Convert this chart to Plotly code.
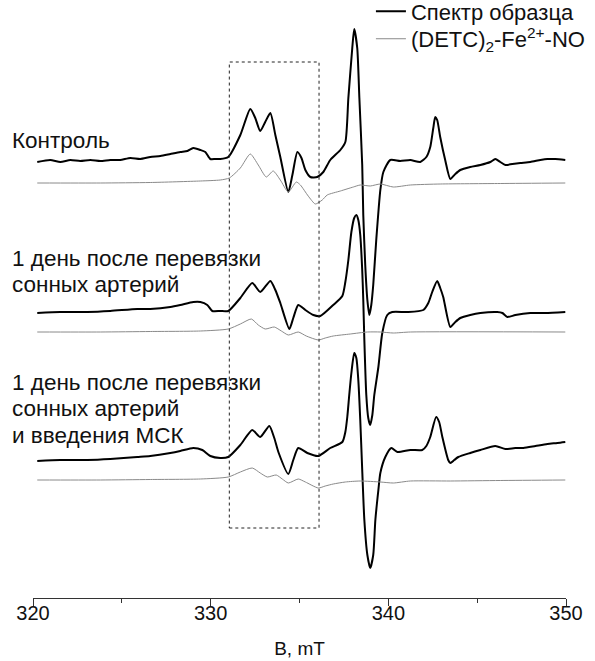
import plotly.graph_objects as go

# EPR spectra: (field B in mT, intensity in a.u. relative to each trace's own baseline)
control_sample = [
    (320.24, -1), (320.97, 1), (321.54, -1), (322.10, 1), (322.66, 0), (323.23, 1),
    (323.79, 0), (324.35, 1), (324.91, 1), (325.48, 3), (326.04, 2), (326.60, 4),
    (327.17, 5), (327.73, 7), (328.29, 9), (328.69, 10), (329.02, 13), (329.42, 11),
    (329.70, 9), (329.98, 2), (330.26, 2), (330.54, 2), (330.99, 4), (331.67, 26),
    (332.23, 52), (332.51, 43), (332.79, 30), (333.07, 39), (333.36, 48), (333.64, 26),
    (333.92, 4), (334.37, -31), (334.60, -14), (334.88, 9), (335.11, 3), (335.33, -9),
    (335.61, -16), (336.00, -16), (336.34, -11), (336.73, 1), (337.30, 11), (337.58, 19),
    (337.75, 63), (337.97, 113), (338.08, 132), (338.25, 113), (338.37, 63), (338.53, -4),
    (338.59, -54), (338.70, -104), (338.82, -139), (338.93, -154), (339.04, -144),
    (339.15, -124), (339.32, -79), (339.55, -29), (339.72, -11), (340.11, 1), (340.67, 0),
    (341.24, 1), (341.80, -1), (342.14, 4), (342.36, 14), (342.53, 33), (342.64, 44),
    (342.75, 41), (342.92, 24), (343.20, 1), (343.49, -18), (343.77, -13), (344.05, -9),
    (344.61, -6), (345.18, -4), (345.74, -1), (346.02, 2), (346.30, -1), (346.59, -4),
    (346.98, -3), (347.43, -2), (347.99, -1), (348.56, 1), (348.95, 2), (349.40, 2),
    (349.96, 1),
]
control_ref = [
    (320.24, 0), (323.79, 0), (326.60, 0.5), (329.42, 2), (330.54, 3), (331.05, 5),
    (331.67, 15), (332.23, 29), (332.68, 18), (333.13, 6), (333.52, 12), (333.92, 3),
    (334.37, -9), (334.82, 1), (335.05, -2), (335.49, -13), (335.89, -21), (336.28, -17),
    (336.56, -12), (337.30, -8), (338.03, -4), (338.42, -2), (338.98, -3), (339.55, -1),
    (340.28, -4), (341.24, -2), (342.92, -1), (346.30, -0.5), (349.96, 0),
]
ligation_sample = [
    (320.24, -1), (321.54, 0), (323.06, 0), (324.35, 1), (325.87, 3), (326.60, 3),
    (327.73, 5), (328.29, 7), (329.02, 10), (329.42, 10), (329.81, 7), (330.09, 1),
    (330.54, 1), (330.99, 1), (331.67, 14), (332.34, 29), (332.79, 20), (333.36, 31),
    (333.64, 22), (333.92, 9), (334.43, -17), (334.65, -6), (334.93, 7), (335.33, 2),
    (335.78, -3), (336.17, -4), (336.90, 7), (337.41, 16), (337.58, 30), (337.75, 52),
    (337.92, 80), (338.08, 94), (338.20, 97), (338.31, 92), (338.42, 77), (338.53, 42),
    (338.59, 12), (338.65, -28), (338.76, -83), (338.87, -106), (338.98, -113),
    (339.10, -103), (339.21, -83), (339.44, -55), (339.66, -21), (339.94, -3),
    (340.22, 0), (341.07, 0), (341.97, 2), (342.25, 9), (342.47, 20), (342.75, 31),
    (342.92, 24), (343.09, 15), (343.49, -15), (343.77, -10), (344.05, -6), (344.61, -3),
    (345.18, -1), (346.13, 0), (346.42, -1), (346.70, -5), (347.15, -3), (347.99, -1),
    (348.84, -1), (349.96, 0),
]
ligation_ref = [
    (320.24, 0), (323.79, 0), (326.60, 0.5), (329.42, 1), (330.99, 3), (331.67, 8),
    (332.29, 13), (332.68, 7), (333.07, 3), (333.58, 5), (333.98, 1), (334.37, -3),
    (334.93, 0), (335.38, -4), (336.06, -8), (336.45, -6), (336.90, -4), (337.86, -2),
    (338.82, 0), (339.55, 0), (340.28, -1), (341.24, 0), (349.96, 0),
]
msc_sample = [
    (320.24, -1), (321.54, 0), (323.06, 0), (324.35, 1), (325.87, 3), (326.60, 4),
    (327.73, 7), (328.29, 9), (329.02, 12), (329.53, 10), (329.98, 4), (330.54, 2),
    (330.99, 3), (331.67, 15), (332.34, 30), (332.79, 23), (333.30, 34), (333.58, 22),
    (333.81, 8), (334.37, -14), (334.65, 0), (334.93, 12), (335.44, 7), (336.06, 4),
    (336.73, 12), (337.41, 18), (337.58, 28), (337.69, 43), (337.80, 65), (337.92, 87),
    (338.08, 107), (338.20, 102), (338.31, 80), (338.42, 40), (338.53, -10),
    (338.65, -60), (338.82, -95), (338.98, -108), (339.15, -95), (339.27, -60),
    (339.44, -30), (339.55, -13), (339.83, 3), (340.17, 12), (340.51, 8), (341.24, 10),
    (341.91, 10), (342.14, 14), (342.36, 23), (342.69, 43), (342.86, 38), (343.04, 23),
    (343.37, 0), (343.49, -3), (343.71, 0), (343.94, 3), (344.61, 7), (345.18, 10),
    (346.02, 14), (346.59, 11), (347.15, 12), (347.60, 12), (348.28, 14), (348.95, 16),
    (349.51, 17), (349.96, 18),
]
msc_ref = [
    (320.24, 0), (323.79, 0), (326.60, 0.5), (329.42, 1), (330.99, 3), (331.67, 8),
    (332.34, 12), (332.79, 7), (333.19, 3), (333.69, 5), (334.03, 1), (334.37, -3),
    (334.93, 1), (335.33, -2), (336.06, -8), (336.45, -6), (336.90, -4), (337.58, -2),
    (338.42, -1), (339.55, -2), (340.28, -3), (341.24, -1), (343.49, -1),
    (346.30, -0.5), (349.96, 0),
]

# caption lines for each group and the vertical position of each line
group_labels = [
    ["Контроль"],
    ["1 день после перевязки", "сонных артерий"],
    ["1 день после перевязки", "сонных артерий", "и введения МСК"],
]
label_top = [458, 340, 216]
LINE_STEP = 26.5

# vertical offsets that stack the traces (sample, reference) per group
sample_offsets = [437, 286, 138]
ref_offsets = [415, 266, 118]

samples = [control_sample, ligation_sample, msc_sample]
refs = [control_ref, ligation_ref, msc_ref]

FONT = "Liberation Sans, Arial, sans-serif"
TEXT_SIZE = 22.5

fig = go.Figure()
for i, (smp, ref) in enumerate(zip(samples, refs)):
    bx, by = zip(*smp)
    rx, ry = zip(*ref)
    fig.add_trace(go.Scatter(
        x=list(bx), y=[v + sample_offsets[i] for v in by], mode="lines",
        line=dict(color="black", width=2, shape="spline", smoothing=0.6),
        name="Спектр образца", showlegend=(i == 0), legend="legend",
    ))
    fig.add_trace(go.Scatter(
        x=list(rx), y=[v + ref_offsets[i] for v in ry], mode="lines",
        line=dict(color="#8a8a8a", width=1, shape="spline", smoothing=0.6),
        name="(DETC)<sub>2</sub>-Fe<sup>2+</sup>-NO", showlegend=(i == 0),
        legend="legend2",
    ))

# dotted frame around the (DETC)2-Fe2+-NO hyperfine region
fig.add_shape(type="rect", x0=331.05, x1=336.1, y0=70, y1=536,
              line=dict(color="#222222", width=1, dash="dot"))

# group captions sit in the left margin / over the left baseline
for lines, top in zip(group_labels, label_top):
    for k, txt in enumerate(lines):
        fig.add_annotation(xref="paper", yref="y", x=-0.044,
                           y=top - k * LINE_STEP, text=txt, showarrow=False,
                           xanchor="left", yanchor="middle", align="left",
                           font=dict(family=FONT, size=TEXT_SIZE,
                                     color="#111111"))

legend_common = dict(xanchor="left", yanchor="top", bgcolor="rgba(0,0,0,0)",
                     font=dict(size=22), itemwidth=30)

fig.update_layout(
    width=595, height=661,
    margin=dict(l=33, r=29, t=0, b=63, autoexpand=False),
    paper_bgcolor="white", plot_bgcolor="white",
    font=dict(family=FONT, size=19, color="#111111"),
    legend=dict(x=0.634, y=1.016, **legend_common),
    legend2=dict(x=0.634, y=0.970, **legend_common),
    xaxis=dict(
        range=[320, 350], showgrid=False, zeroline=False, automargin=False,
        showline=True, linecolor="#333333", linewidth=1,
        ticks="outside", ticklen=7, tickcolor="#333333",
        tickvals=[320, 330, 340, 350], ticklabelstandoff=-10,
        minor=dict(tickvals=[325, 335, 345], ticks="outside", ticklen=4,
                   tickcolor="#333333"),
        tickfont=dict(size=20),
        title=dict(text="B, mT", font=dict(size=19), standoff=18),
    ),
    yaxis=dict(range=[0, 598], visible=False, automargin=False),
)

fig.write_html("out.html")
